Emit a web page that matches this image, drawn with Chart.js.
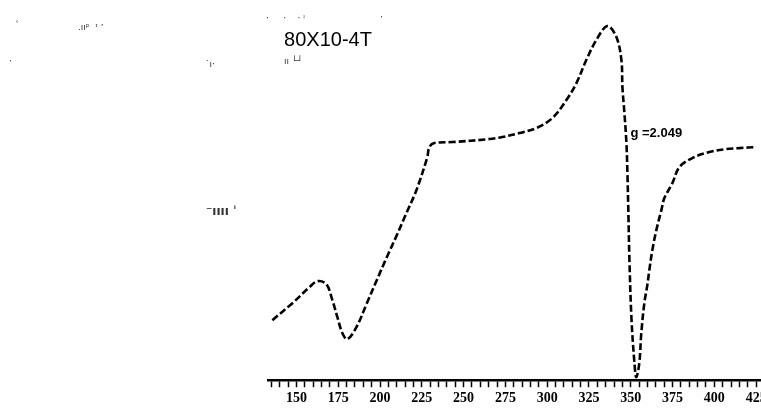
<!DOCTYPE html>
<html>
<head>
<meta charset="utf-8">
<title>EPR spectrum</title>
<script src="https://cdn.jsdelivr.net/npm/chart.js@4.4.1/dist/chart.umd.min.js"></script>
<style>
  html, body { margin: 0; padding: 0; background: #fff; overflow: hidden; }
  #wrap { position: relative; width: 780px; height: 414px; }
</style>
</head>
<body>
<div id="wrap"><canvas id="chartEpr"></canvas></div>
<script>
// magnetic field, mT
const field = [135.6, 147.6, 157.8, 162.6, 167.9, 171.5, 174.5, 177.5, 180.5, 185.9,
    191.9, 197.8, 203.8, 209.8, 215.8, 221.8, 228.3, 229.5, 232.5, 243.3,
    265.4, 273.2, 283.4, 293.5, 303.1, 311.5, 317.5, 323.4, 329.4, 336.0,
    341.4, 344.4, 345.0, 346.2, 347.4, 348.0, 348.6, 349.2, 350.4, 352.2,
    353.3, 355.1, 356.3, 358.1, 359.9, 361.1, 362.9, 365.3, 368.3, 370.1,
    374.9, 379.1, 386.8, 397.0, 407.2, 414.9, 425.1];
// first derivative signal, arbitrary units
const signal = [60, 77, 93, 99, 96, 80, 63, 47, 41, 53,
    76, 99, 122, 144, 167, 190, 223, 233, 237, 238,
    241, 243, 247, 252, 262, 280, 297, 320, 340, 354,
    343, 320, 293, 267, 237, 207, 165, 120, 62, 17,
    3, 17, 47, 77, 95, 110, 130, 150, 170, 182,
    197, 213, 222, 228, 231, 232, 233];
const tickLabels = ['150', '175', '200', '225', '250', '275', '300', '325', '350', '375', '400', '425'];
const minorStep = 5;
const gValue = 'g =2.049';
const sweepNote = '80X10-4T';

const points = field.map((f, i) => ({ x: f, y: signal[i] }));

// text printed on the recorder sheet
const sheetText = {
    id: 'sheetText',
    afterDraw(chart) {
        const { ctx, scales: { x, y } } = chart;
        ctx.save();
        ctx.fillStyle = '#000';
        ctx.textBaseline = 'middle';
        ctx.font = '20px "Liberation Sans", Arial, sans-serif';
        ctx.fillText(sweepNote, x.getPixelForValue(142.6), y.getPixelForValue(340));
        ctx.font = 'bold 13px "Liberation Sans Narrow", "Liberation Sans", Arial, sans-serif';
        ctx.fillText(gValue, x.getPixelForValue(349.8), y.getPixelForValue(247));
        // faded parameter print in the upper left
        ctx.fillStyle = '#333';
        ctx.font = '9px "DejaVu Sans", sans-serif';
        ctx.fillText('\u02bf', 16, 25);
        ctx.fillText('.\u0131\u0131\u1d56  \u1da6 \u02bc', 78, 28);
        ctx.fillText('\u00b7     \u00b7    \u00b7 \u1d4e', 266, 19);
        ctx.fillText('\u00b7', 380, 18);
        ctx.fillText('\u00b7', 9, 62);
        ctx.fillText('\u02d9\u0131\u00b7', 205, 65);
        ctx.fillText('\u0131\u0131 \u2514\u2518', 284, 62);
        ctx.font = 'bold 12px "DejaVu Sans", sans-serif';
        ctx.fillText('\u207b\u0131\u0131\u0131\u0131 \u02c8', 206, 212);
        ctx.restore();
    }
};

new Chart(document.getElementById('chartEpr'), {
    type: 'line',
    data: {
        datasets: [{
            data: points,
            borderColor: '#000',
            borderWidth: 2.6,
            borderDash: [7, 3],
            pointRadius: 0,
            tension: 0.35,
            fill: false
        }]
    },
    options: {
        responsive: true,
        maintainAspectRatio: false,
        animation: false,
        layout: { padding: { left: 268, right: 19, top: 0, bottom: 4 } },
        plugins: { legend: { display: false }, tooltip: { enabled: false } },
        scales: {
            x: {
                type: 'linear',
                min: 133,
                max: 427.9,
                afterBuildTicks(scale) {
                    const ticks = [];
                    for (let v = 135; v <= 427; v += minorStep) ticks.push({ value: v });
                    scale.ticks = ticks;
                },
                border: { display: true, color: '#000', width: 2.5 },
                grid: { drawOnChartArea: false, tickLength: 7, tickColor: '#000', tickWidth: 1.5 },
                ticks: {
                    autoSkip: false,
                    maxRotation: 0,
                    padding: 3,
                    color: '#000',
                    font: { family: '"Liberation Serif", serif', size: 14, weight: 'bold' },
                    callback(value) {
                        const s = String(Math.round(value));
                        return tickLabels.includes(s) ? s : '';
                    }
                }
            },
            y: { display: false, min: 0, max: 380 }
        }
    },
    plugins: [sheetText]
});
</script>
</body>
</html>
